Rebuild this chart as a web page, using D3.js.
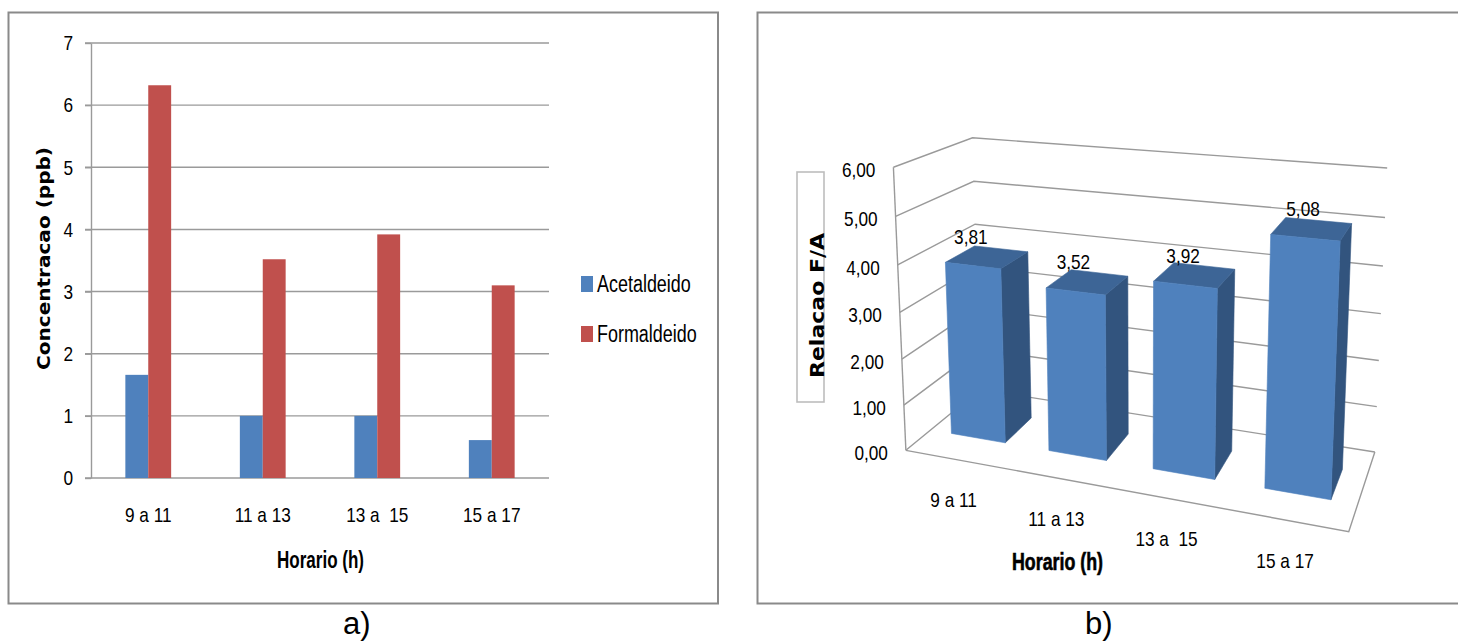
<!DOCTYPE html>
<html>
<head>
<meta charset="utf-8">
<script src="https://cdn.jsdelivr.net/npm/d3@7"></script>
<style>
  body { margin: 0; background: #fff; }
  svg { display: block; }
  text { font-family: 'Liberation Sans', Arial, sans-serif; fill: #000; white-space: pre; }
</style>
</head>
<body>
<svg id="fig" width="1458" height="642"></svg>
<script>
// ---- data -------------------------------------------------------------
const categories   = ["9 a 11", "11 a 13", "13 a  15", "15 a 17"];
const seriesNames  = ["Acetaldeido", "Formaldeido"];
const acetaldeido  = [1.66, 1.00, 1.00, 0.61];   // ppb
const formaldeido  = [6.32, 3.52, 3.92, 3.10];   // ppb
const relacaoFA    = [3.81, 3.52, 3.92, 5.08];   // F/A ratio
const ticksConc    = [0, 1, 2, 3, 4, 5, 6, 7];
const ticksRatio   = [0, 1, 2, 3, 4, 5, 6];
const fmtRatio     = v => d3.format(".2f")(v).replace(".", ",");

const svg = d3.select("#fig");
const GRID = "#9a9a9a";
const FRAME = "#8a8a8a";

// ---- panel frames & captions -----------------------------------------
svg.append("rect").attr("x", 8.5).attr("y", 12.5).attr("width", 709.5).attr("height", 591)
  .attr("fill", "none").attr("stroke", FRAME).attr("stroke-width", 2);
svg.append("rect").attr("x", 757.5).attr("y", 12.5).attr("width", 760).attr("height", 591)
  .attr("fill", "none").attr("stroke", FRAME).attr("stroke-width", 2);
svg.append("text").attr("x", 343).attr("y", 633.5).attr("font-size", 31).text("a)");
svg.append("text").attr("x", 1085).attr("y", 633.5).attr("font-size", 31).text("b)");

// ======================================================================
// a) clustered columns: concentration per time window
// ======================================================================
const A = { left: 91, right: 549, top: 43, bottom: 478 };
const xA = d3.scaleBand().domain(categories).range([A.left, A.right]).paddingInner(0.6).paddingOuter(0.3);
const sA = d3.scaleBand().domain(seriesNames).range([0, xA.bandwidth()]);
const yA = d3.scaleLinear().domain([0, 7]).range([A.bottom, A.top]);
const colorA = d3.scaleOrdinal().domain(seriesNames).range(["#4F81BD", "#C0504D"]);
const gA = svg.append("g");

gA.selectAll("line.grid").data(ticksConc).join("line").attr("class", "grid")
  .attr("x1", A.left - 6).attr("x2", A.right)
  .attr("y1", d => yA(d)).attr("y2", d => yA(d))
  .attr("stroke", GRID).attr("stroke-width", 1.4);

const axA = gA.append("g").attr("transform", `translate(${A.left},0)`)
  .call(d3.axisLeft(yA).tickValues(ticksConc).tickFormat(d3.format("d"))
    .tickSize(6).tickPadding(12).tickSizeOuter(0));
axA.attr("font-size", 21).attr("font-family", null);
axA.selectAll("text").classed("narrow", true);
axA.selectAll("path, line").attr("stroke", GRID).attr("stroke-width", 1.4);

const axAx = gA.append("g").attr("transform", `translate(0,${A.bottom})`)
  .call(d3.axisBottom(xA).tickSize(0).tickPadding(29));
axAx.attr("font-size", 21).attr("font-family", null);
axAx.selectAll("text").classed("narrow", true);
axAx.select(".domain").remove();

const rowsA = categories.map((c, i) => ({
  cat: c,
  values: [{ name: seriesNames[0], value: acetaldeido[i] }, { name: seriesNames[1], value: formaldeido[i] }]
}));
gA.selectAll("g.cat").data(rowsA).join("g").attr("class", "cat")
  .attr("transform", d => `translate(${xA(d.cat)},0)`)
  .selectAll("rect").data(d => d.values).join("rect")
  .attr("x", d => sA(d.name)).attr("width", sA.bandwidth())
  .attr("y", d => yA(d.value)).attr("height", d => yA(0) - yA(d.value))
  .attr("fill", d => colorA(d.name));

// axis titles
gA.append("text").attr("transform", "translate(50,258.5) scale(0.85,1) rotate(-90)")
  .attr("text-anchor", "middle").attr("font-size", 20).attr("font-weight", "bold")
  .attr("textLength", 223).attr("lengthAdjust", "spacingAndGlyphs")
  .style("font-family", "'DejaVu Sans', Verdana, sans-serif")
  .text("Concentracao (ppb)");
gA.append("text").attr("x", 277).attr("y", 568).attr("font-size", 24).attr("font-weight", "bold")
  .attr("textLength", 87).attr("lengthAdjust", "spacingAndGlyphs").text("Horario (h)");

// legend
const leg = gA.selectAll("g.leg").data(seriesNames).join("g").attr("class", "leg")
  .attr("transform", (d, i) => `translate(581,${276 + i * 50})`);
leg.append("rect").attr("width", 12).attr("height", 16).attr("fill", d => colorA(d));
leg.append("text").attr("class", "narrow").attr("x", 16).attr("y", 15.7).attr("font-size", 23).text(d => d);

// ======================================================================
// b) 3-D columns: F/A ratio
// ======================================================================
// Box coordinates: X (categories) 0..1, Y (value) via yB 0..1, Z depth 0 = front, 1 = back.
const yB = d3.scaleLinear().domain([0, 6]).range([0, 1]);
const xB = d3.scaleBand().domain(categories).range([0, 1]).paddingInner(0.44).paddingOuter(0.22);
const depth = { front: 0.31, back: 0.70 };

// Screen position of the box corners; a projective camera is solved from them.
const boxCorners = [
  [0, 1, 0, 893.5, 166.7], [0, 0.5, 0, 900, 312.2], [0, 0, 0, 906, 451],
  [0, 1, 1, 972.2, 138.3], [0, 0, 1, 980, 389],
  [1, 1, 1, 1387.3, 168.3], [1, 0.5, 1, 1381, 313.3], [1, 0, 1, 1375, 452],
  [1, 0, 0, 1348.3, 531.7]
];
const CX = 1100, CY = 350, SC = 250;

function solveLinear(M, b) {
  const n = b.length;
  const a = M.map((r, i) => r.concat([b[i]]));
  for (let c = 0; c < n; c++) {
    let p = c;
    for (let r = c + 1; r < n; r++) if (Math.abs(a[r][c]) > Math.abs(a[p][c])) p = r;
    [a[c], a[p]] = [a[p], a[c]];
    for (let r = c + 1; r < n; r++) {
      const f = a[r][c] / a[c][c];
      for (let k = c; k <= n; k++) a[r][k] -= f * a[c][k];
    }
  }
  const x = new Array(n).fill(0);
  for (let r = n - 1; r >= 0; r--) {
    let s = a[r][n];
    for (let k = r + 1; k < n; k++) s -= a[r][k] * x[k];
    x[r] = s / a[r][r];
  }
  return x;
}

function solveCamera(pts) {
  const rows = [], rhs = [];
  pts.forEach(([X, Y, Z, u, v]) => {
    const un = (u - CX) / SC, vn = (v - CY) / SC;
    rows.push([X, Y, Z, 1, 0, 0, 0, 0, -un * X, -un * Y, -un * Z]); rhs.push(un);
    rows.push([0, 0, 0, 0, X, Y, Z, 1, -vn * X, -vn * Y, -vn * Z]); rhs.push(vn);
  });
  const n = 11;
  const M = Array.from({ length: n }, () => new Array(n).fill(0));
  const b = new Array(n).fill(0);
  rows.forEach((r, k) => {
    for (let i = 0; i < n; i++) {
      b[i] += r[i] * rhs[k];
      for (let j = 0; j < n; j++) M[i][j] += r[i] * r[j];
    }
  });
  return solveLinear(M, b);
}
const cam = solveCamera(boxCorners);

// project a point given in data units (x in 0..1, value, z in 0..1)
function P(x, value, z) {
  const y = yB(value);
  const w = cam[8] * x + cam[9] * y + cam[10] * z + 1;
  const u = (cam[0] * x + cam[1] * y + cam[2] * z + cam[3]) / w;
  const v = (cam[4] * x + cam[5] * y + cam[6] * z + cam[7]) / w;
  return [u * SC + CX, v * SC + CY];
}
const line = d3.line();
const gB = svg.append("g");

// gridlines along the side and back walls
gB.selectAll("path.grid").data(ticksRatio).join("path").attr("class", "grid")
  .attr("d", t => line([P(0, t, 0), P(0, t, 1), P(1, t, 1)]))
  .attr("fill", "none").attr("stroke", GRID).attr("stroke-width", 1.4);
// value axis edge and floor outline
gB.append("path").attr("d", line([P(0, 0, 0), P(0, 6, 0)]))
  .attr("fill", "none").attr("stroke", GRID).attr("stroke-width", 1.4);
gB.append("path").attr("d", line([P(0, 0, 0), P(1, 0, 0), P(1, 0, 1)]))
  .attr("fill", "none").attr("stroke", GRID).attr("stroke-width", 1.4);

// value tick labels
gB.selectAll("text.tick").data(ticksRatio).join("text").attr("class", "tick narrow")
  .attr("x", t => P(0, t, 0)[0] - 18).attr("y", t => P(0, t, 0)[1] + 10)
  .attr("text-anchor", "end").attr("font-size", 21).text(t => fmtRatio(t));

// columns
const barsB = categories.map((c, i) => {
  const x0 = xB(c), x1 = xB(c) + xB.bandwidth(), v = relacaoFA[i];
  const zf = depth.front, zb = depth.back;
  return {
    cat: c, v, xc: (x0 + x1) / 2,
    faces: [
      { fill: "#32547E", pts: [P(x1, 0, zf), P(x1, 0, zb), P(x1, v, zb), P(x1, v, zf)] },
      { fill: "#3D6596", pts: [P(x0, v, zf), P(x1, v, zf), P(x1, v, zb), P(x0, v, zb)] },
      { fill: "#4F81BD", pts: [P(x0, 0, zf), P(x1, 0, zf), P(x1, v, zf), P(x0, v, zf)] }
    ]
  };
});
gB.selectAll("g.bar").data(barsB).join("g").attr("class", "bar")
  .selectAll("path").data(d => d.faces).join("path")
  .attr("d", f => line(f.pts) + "Z").attr("fill", f => f.fill)
  .attr("stroke", f => f.fill).attr("stroke-width", 0.6).attr("stroke-linejoin", "round");

// data labels
gB.selectAll("text.val").data(barsB).join("text").attr("class", "val narrow")
  .attr("x", d => P(d.xc, d.v, depth.front)[0] - 2).attr("y", d => P(d.xc, d.v, depth.front)[1] - 22)
  .attr("text-anchor", "middle").attr("font-size", 21).text(d => fmtRatio(d.v));

// category labels
gB.selectAll("text.cat").data(barsB).join("text").attr("class", "cat narrow")
  .attr("x", d => P(d.xc, 0, 0)[0] - 1).attr("y", d => P(d.xc, 0, 0)[1] + 48)
  .attr("text-anchor", "middle").attr("font-size", 21).text(d => d.cat);

// axis titles
gB.append("rect").attr("x", 797).attr("y", 172).attr("width", 27).attr("height", 230)
  .attr("fill", "none").attr("stroke", "#bdbdbd").attr("stroke-width", 1.6);
gB.append("text").attr("transform", "translate(824,305.5) scale(0.9,1) rotate(-90)")
  .attr("text-anchor", "middle").attr("font-size", 21).attr("font-weight", "bold")
  .attr("textLength", 145).attr("lengthAdjust", "spacingAndGlyphs")
  .style("font-family", "'DejaVu Sans', Verdana, sans-serif")
  .text("Relacao F/A");
gB.append("text").attr("x", 1012).attr("y", 570).attr("font-size", 23).attr("font-weight", "bold")
  .attr("stroke", "#000").attr("stroke-width", 0.6)
  .attr("textLength", 91).attr("lengthAdjust", "spacingAndGlyphs").text("Horario (h)");

// condensed lettering: squeeze regular text horizontally to a narrow face
svg.selectAll("text.narrow").each(function () {
  const w = this.getComputedTextLength();
  const k = this.closest(".leg") ? 0.78 : 0.82;
  d3.select(this).attr("textLength", (w * k).toFixed(1)).attr("lengthAdjust", "spacingAndGlyphs");
});
</script>
</body>
</html>
